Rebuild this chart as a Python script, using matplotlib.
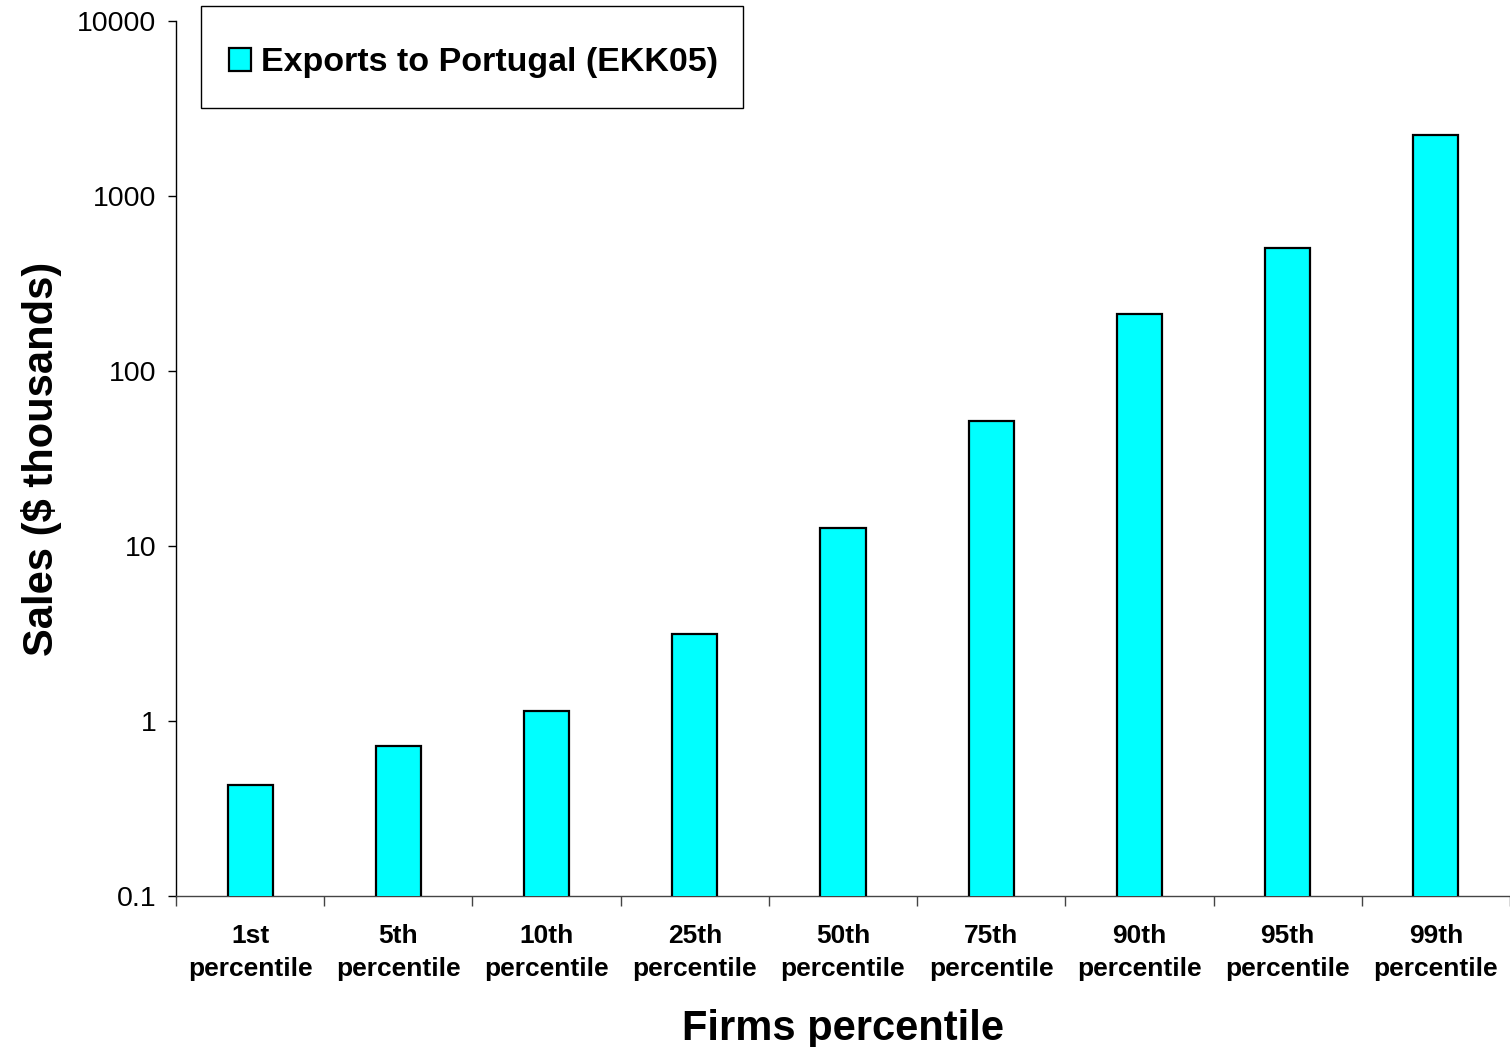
import matplotlib

matplotlib.use("Agg")
import matplotlib.pyplot as plt
from matplotlib.patches import Patch, Rectangle
from matplotlib.ticker import FixedLocator, NullFormatter

plt.rcParams["font.family"] = ["Liberation Sans", "DejaVu Sans"]

CATEGORIES = ["1st\npercentile", "5th\npercentile", "10th\npercentile", "25th\npercentile",
              "50th\npercentile", "75th\npercentile", "90th\npercentile", "95th\npercentile",
              "99th\npercentile"]
SALES = [0.43, 0.72, 1.14, 3.14, 12.7, 52, 212, 505, 2230]
Y_TICKS = [0.1, 1, 10, 100, 1000, 10000]
Y_TICK_LABELS = ["0.1", "1", "10", "100", "1000", "10000"]
SERIES_LABEL = "Exports to Portugal (EKK05)"

COLOR_BAR = "#00ffff"
W, H = 1510, 1047

fig = plt.figure(figsize=(W / 100, H / 100), dpi=100)
ax = fig.add_axes([0.1166, 0.1442, 0.8834, 0.8358])

x = range(len(SALES))
ax.bar(x, SALES, width=0.305, color=COLOR_BAR, edgecolor="black", linewidth=1.6, zorder=3)

ax.set_yscale("log")
ax.set_ylim(0.1, 10000)
ax.set_xlim(-0.5, len(SALES) - 0.5)
ax.yaxis.set_major_locator(FixedLocator(Y_TICKS))
ax.set_yticklabels(Y_TICK_LABELS)
ax.yaxis.set_minor_formatter(NullFormatter())
ax.tick_params(axis="y", which="minor", length=0)
ax.tick_params(axis="y", which="major", direction="out", length=6, width=1, labelsize=20.5, pad=8)

# category boundaries get the tick marks, labels sit at the centres
ax.xaxis.set_major_locator(FixedLocator([i - 0.5 for i in range(len(SALES) + 1)]))
ax.xaxis.set_major_formatter(NullFormatter())
ax.xaxis.set_minor_locator(FixedLocator(list(x)))
ax.set_xticklabels(CATEGORIES, minor=True, fontweight="bold", fontsize=19, linespacing=1.5)
ax.tick_params(axis="x", which="major", direction="out", length=7, width=1, color="#444444")
ax.tick_params(axis="x", which="minor", length=0, pad=20)

for spine in ("top", "right"):
    ax.spines[spine].set_visible(False)
ax.spines["left"].set_linewidth(1)
ax.spines["bottom"].set_linewidth(1)
ax.spines["bottom"].set_color("#444444")

ax.set_ylabel("Sales ($ thousands)", fontsize=30, fontweight="bold", labelpad=11)
ax.set_xlabel("Firms percentile", fontsize=30, fontweight="bold", labelpad=20)

# legend frame drawn separately so the box size matches the original
fig.patches.append(Rectangle((201 / W, 1 - 108 / H), 542 / W, 102 / H, transform=fig.transFigure,
                             facecolor="white", edgecolor="black", linewidth=1, zorder=5))
handle = Patch(facecolor=COLOR_BAR, edgecolor="black", linewidth=1.6)
leg = fig.legend([handle], [SERIES_LABEL], loc="center left",
                 bbox_to_anchor=(229 / W, 1 - 63 / H), frameon=False,
                 prop={"weight": "bold", "size": 24.5}, borderpad=0,
                 handlelength=0.65, handleheight=0.65, handletextpad=0.3, borderaxespad=0)
leg.set_zorder(6)

fig.savefig("out.png", dpi=100, facecolor="white")
